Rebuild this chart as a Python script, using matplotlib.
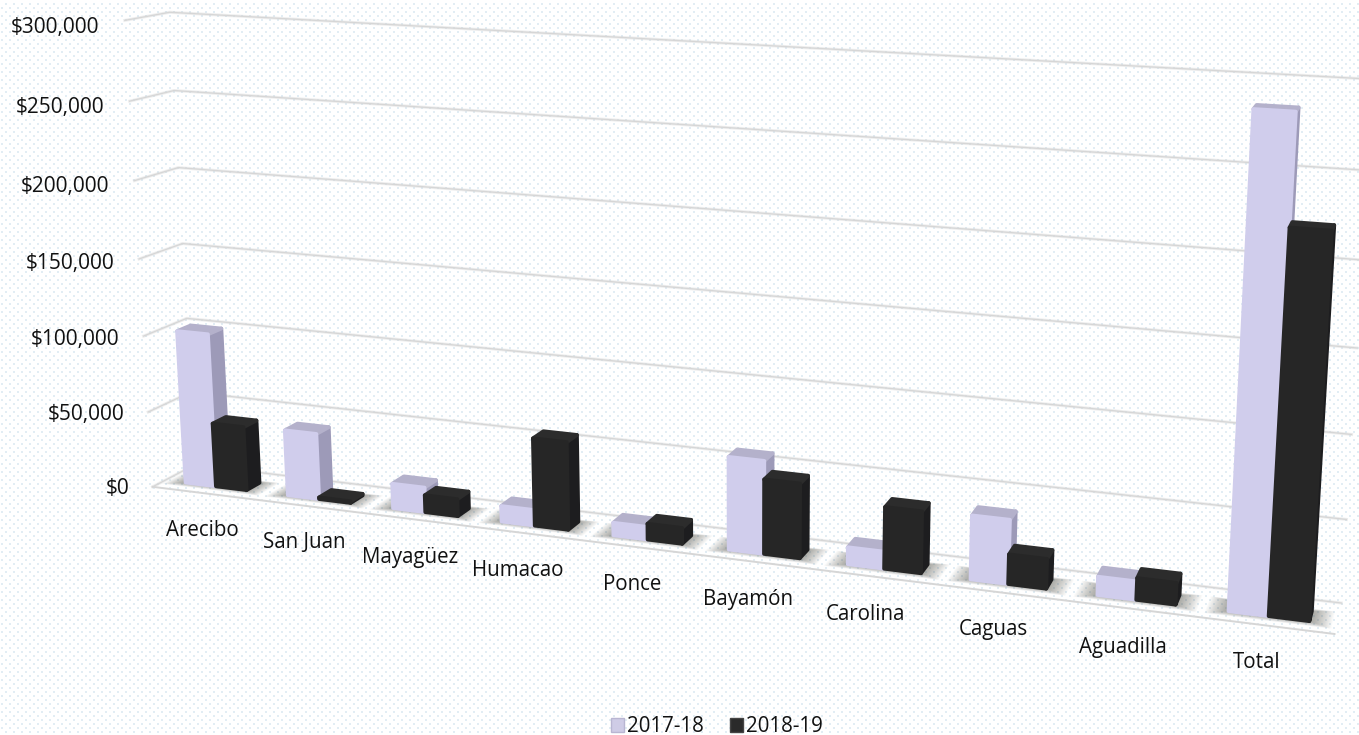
import numpy as np
import matplotlib
matplotlib.use('Agg')
import matplotlib.pyplot as plt
from matplotlib.patches import Patch

plt.rcParams['font.family'] = ['Open Sans', 'DejaVu Sans']

categories = ['Arecibo', 'San Juan', 'Mayagüez', 'Humacao', 'Ponce', 'Bayamón',
              'Carolina', 'Caguas', 'Aguadilla', 'Total']
values_1718 = [101000, 43000, 16000, 10000, 8000, 58000, 10500, 39000, 11000, 285000]
values_1819 = [42000, 1000, 11000, 56000, 10000, 46500, 38000, 18000, 13000, 222000]
series_labels = ['2017-18', '2018-19']
ticks = [0, 50000, 100000, 150000, 200000, 250000, 300000]
tick_labels = ['$0', '$50,000', '$100,000', '$150,000', '$200,000', '$250,000', '$300,000']

# where the category labels sit, the chart is a fake 3D so they stagger
label_x = [202, 304, 410, 518, 632, 748, 865, 993, 1123, 1257]
label_y = [530, 543, 557, 570, 584, 599, 615, 630, 648, 662]

# ----- camera: (category, value/300k, depth) -> pixel, fitted from read-off points -----
calib = [
    (0, 0, 0, 150, 484), (0, 0, 1, 190, 468), (10, 0, 0, 1330, 635), (10, 0, 1, 1343, 601),
    (0, 1, 1, 172, 12), (0, 1, 0, 120, 23), (10, 1, 1, 1369, 78),
    (0.2, 0, 0.3, 188, 481), (1.2, 0, 0.3, 290, 495), (2.2, 0, 0.3, 394, 508),
    (3.2, 0, 0.3, 503, 520), (4.2, 0, 0.3, 612, 536), (5.2, 0, 0.3, 728, 550),
    (6.2, 0, 0.3, 847, 565), (7.2, 0, 0.3, 972, 581), (8.2, 0, 0.3, 1097, 597),
    (9.2, 0, 0.3, 1230, 612),
    (9.2, 0.95, 0.3, 1258, 113), (9.8, 0.74, 0.3, 1333, 225), (0.2, 0.337, 0.3, 182, 329),
]
A, b = [], []
for cx, cy, cz, px, py in calib:
    A.append([cx, cy, cz, 1, 0, 0, 0, 0, -px * cx, -px * cy, -px * cz])
    b.append(px)
    A.append([0, 0, 0, 0, cx, cy, cz, 1, -py * cx, -py * cy, -py * cz])
    b.append(py)
p = np.linalg.lstsq(np.array(A, float), np.array(b, float), rcond=None)[0]
P = np.append(p, 1).reshape(3, 4)


def project(x, v, z):
    q = P @ np.array([x, v / 300000, z, 1.0])
    return q[0] / q[2], q[1] / q[2]


def face(pts, color, zorder, **kw):
    xy = np.array([project(*pt) for pt in pts])
    kw.setdefault('edgecolor', color)
    kw.setdefault('linewidth', 2.8)
    ax.fill(xy[:, 0], xy[:, 1], facecolor=color, joinstyle='round', zorder=zorder, **kw)


def draw_bar(x0, x1, v, front, side, top, zorder):
    z0, z1 = 0.3, 0.62
    face([(x1, 0, z0), (x1, 0, z1), (x1, v, z1), (x1, v, z0)], side, zorder)
    face([(x0, v, z0), (x1, v, z0), (x1, v, z1), (x0, v, z1)], top, zorder)
    face([(x0, 0, z0), (x1, 0, z0), (x1, v, z0), (x0, v, z0)], front, zorder)


fig = plt.figure(figsize=(13.59, 7.35), dpi=100)
ax = fig.add_axes([0, 0, 1, 1])

# dotted background
bg = np.ones((735, 1359, 3))
for r in range(3, 735, 4):
    off = 1 if (r // 4) % 2 else 5
    bg[r:r + 2, off::8] = (0.89, 0.93, 0.96)
    bg[r:r + 2, off + 1::8] = (0.89, 0.93, 0.96)
ax.imshow(bg, extent=(0, 1359, 735, 0), aspect='auto', interpolation='nearest', zorder=0)
ax.set_xlim(0, 1359)
ax.set_ylim(735, 0)
ax.axis('off')

# grid on the walls
for t in ticks:
    line = np.array([project(0, t, 0), project(0, t, 1), project(10, t, 1)])
    ax.plot(line[:, 0], line[:, 1], color='#c8c8c8', lw=2.2, alpha=0.3, zorder=1)
    ax.plot(line[:, 0], line[:, 1], color='#d6d6d6', lw=0.9, zorder=1)
front_line = np.array([project(0, 0, 0), project(10, 0, 0)])
ax.plot(front_line[:, 0], front_line[:, 1], color='#d6d6d6', lw=1.4, zorder=1)

# soft floor shadows
for i in range(len(categories)):
    for k in range(22):
        e = 0.008 * k
        face([(i + 0.2 - e, 0, 0.3 - e * 0.9), (i + 0.8 + e, 0, 0.3 - e * 0.9),
              (i + 0.8 + e, 0, 0.62 + e * 0.5), (i + 0.2 - e, 0, 0.62 + e * 0.5)],
             '#4a4a40', 2, alpha=0.028, linewidth=0)

for i in range(len(categories)):
    draw_bar(i + 0.2, i + 0.5, values_1718[i], '#d0cdec', '#9d9ab8', '#b4b1cb', 3 + i * 2)
    draw_bar(i + 0.5, i + 0.8, values_1819[i], '#262626', '#1d1d1f', '#2c2c2c', 4 + i * 2)

for t, lab in zip(ticks, tick_labels):
    tx, ty = project(0, t, 0)
    ax.text(tx - 23 - 3 * t / 300000, ty + 1.5 + 6 * t / 300000, lab, ha='right', va='center',
            fontsize=15, color='#111111', zorder=50)

for i, cat in enumerate(categories):
    ax.text(label_x[i], label_y[i], cat, ha='center', va='center', fontsize=14.8, color='#111111', zorder=50)

handles = [Patch(facecolor='#cfcce6', edgecolor='#b9b6d2'), Patch(facecolor='#2a2a2a', edgecolor='#444444')]
ax.legend(handles, series_labels, ncol=2, loc='lower center', bbox_to_anchor=(0.5275, -0.028),
          frameon=False, fontsize=14.8, handlelength=0.65, handleheight=0.65, handletextpad=0.15,
          columnspacing=1.25, labelcolor='#111111')

fig.savefig('out.png', dpi=100)
